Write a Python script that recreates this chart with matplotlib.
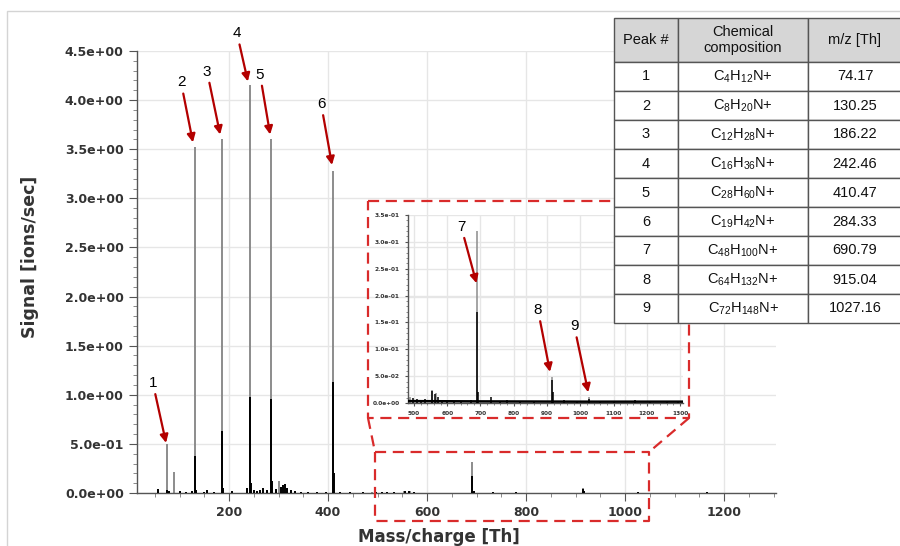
import matplotlib
matplotlib.use("Agg")
import matplotlib.pyplot as plt
from matplotlib.lines import Line2D
from matplotlib.patches import Rectangle
from matplotlib.ticker import MultipleLocator, FormatStrFormatter

plt.rcParams["mathtext.fontset"] = "custom"
plt.rcParams["mathtext.rm"] = "Liberation Sans"
plt.rcParams["mathtext.it"] = "Liberation Sans:italic"

# ---- spectrum data (m/z in Th, signal in ions/sec) ----
# main peaks: full height (grey) and inner trace (black)
major_mz = [74.17, 130.25, 186.22, 242.46, 284.33, 410.47, 690.79, 915.04, 1027.16]
major_top = [0.50, 3.52, 3.60, 4.15, 3.60, 3.28, 0.32, 0.048, 0.011]
major_core = [0.03, 0.38, 0.63, 0.98, 0.96, 1.13, 0.17, 0.042, 0.008]

# minor grey peaks
minor_grey_mz = [88, 301, 488, 553, 566]
minor_grey_h = [0.21, 0.12, 0.012, 0.024, 0.018]

# minor black peaks
minor_mz = [57, 78, 101, 112, 125, 133, 150, 156, 170, 188, 205, 236, 245, 250,
            256, 262, 269, 276, 287, 295, 305, 309, 313, 318, 325, 333, 345, 360,
            378, 395, 412, 425, 444, 470, 497, 508, 520, 533, 555, 563, 573, 585,
            600, 620, 640, 670, 694, 733, 760, 780, 820, 860, 918, 950, 990, 1060,
            1100, 1165, 1210, 1260, 1295]
minor_h = [0.04, 0.02, 0.02, 0.015, 0.02, 0.03, 0.01, 0.03, 0.01, 0.05, 0.02, 0.05,
           0.10, 0.03, 0.02, 0.03, 0.05, 0.03, 0.12, 0.04, 0.06, 0.08, 0.09, 0.05,
           0.03, 0.02, 0.015, 0.01, 0.01, 0.015, 0.20, 0.01, 0.015, 0.008, 0.010,
           0.008, 0.006, 0.008, 0.022, 0.017, 0.012, 0.005, 0.004, 0.004, 0.004,
           0.005, 0.02, 0.012, 0.004, 0.006, 0.004, 0.003, 0.02, 0.005, 0.003,
           0.003, 0.003, 0.006, 0.003, 0.003, 0.003]

# noise floor seen at high m/z
floor_mz = [482, 700, 1000, 1309]
floor_h = [0.0035, 0.003, 0.0025, 0.0025]

# ---- peak annotations ----
main_labels = ["1", "2", "3", "4", "5", "6"]
main_tips = [(72.7, 0.51), (127, 3.57), (182, 3.65), (238, 4.19), (283, 3.65), (408, 3.34)]
main_text = [(46, 1.12), (103, 4.18), (155.6, 4.29), (216, 4.68), (262.6, 4.26), (386, 3.96)]
inset_labels = ["7", "8", "9"]
inset_tips = [(688, 0.223), (909, 0.058), (1024, 0.020)]
inset_text = [(642, 0.328), (873, 0.173), (982, 0.143)]

# ---- table ----
table_header = ["Peak #", "Chemical\ncomposition", "m/z [Th]"]
peak_numbers = ["1", "2", "3", "4", "5", "6", "7", "8", "9"]
formulas = [r"C$_{4}$H$_{12}$N+", r"C$_{8}$H$_{20}$N+", r"C$_{12}$H$_{28}$N+",
            r"C$_{16}$H$_{36}$N+", r"C$_{28}$H$_{60}$N+", r"C$_{19}$H$_{42}$N+",
            r"C$_{48}$H$_{100}$N+", r"C$_{64}$H$_{132}$N+", r"C$_{72}$H$_{148}$N+"]
mz_values = ["74.17", "130.25", "186.22", "242.46", "410.47", "284.33",
             "690.79", "915.04", "1027.16"]

W, H = 900, 546
fig = plt.figure(figsize=(W / 100, H / 100), dpi=100)


def fx(x):
    return x / W


def fy(y):
    return 1 - y / H


GREY = "#8c8c8c"
ARROW = "#b30000"
DASH = "#d92b2b"
TICKC = "#333333"


def draw_spectrum(ax, lw):
    ax.vlines(major_mz, 0, major_top, color=GREY, lw=lw, zorder=2)
    ax.vlines(minor_grey_mz, 0, minor_grey_h, color=GREY, lw=lw, zorder=2)
    ax.vlines(major_mz, 0, major_core, color="black", lw=lw, zorder=3)
    ax.vlines(minor_mz, 0, minor_h, color="black", lw=lw, zorder=3)


def style_axes(ax, fs, major_len, minor_len):
    for s in ("top", "right"):
        ax.spines[s].set_visible(False)
    for s in ("left", "bottom"):
        ax.spines[s].set_color("#555555")
        ax.spines[s].set_linewidth(1.0)
    ax.grid(True, which="major", color="#e6e6e6", lw=1.0, zorder=0)
    ax.set_axisbelow(True)
    ax.tick_params(which="major", direction="out", length=major_len, width=0.8,
                   color="#555555", labelsize=fs, labelcolor=TICKC)
    ax.tick_params(which="minor", direction="out", length=minor_len, width=0.6,
                   color="#777777")
    for lab in ax.get_xticklabels() + ax.get_yticklabels():
        lab.set_fontweight("bold")


# figure frame
fig.add_artist(Rectangle((fx(7), -0.1), 1.2, fy(11) + 0.1, transform=fig.transFigure,
                         fill=False, edgecolor="#d4d4d4", lw=1.0))

# ---- main axes ----
ax = fig.add_axes([fx(137), fy(493), fx(776) - fx(137), fy(51) - fy(493)])
draw_spectrum(ax, 1.4)
ax.set_xlim(14, 1305)
ax.set_ylim(0, 4.5)
ax.xaxis.set_major_locator(MultipleLocator(200))
ax.xaxis.set_minor_locator(MultipleLocator(50))
ax.yaxis.set_major_locator(MultipleLocator(0.5))
ax.yaxis.set_minor_locator(MultipleLocator(0.1))
ax.yaxis.set_major_formatter(FormatStrFormatter("%.1e"))
style_axes(ax, 9, 6, 3)
ax.set_xlabel("Mass/charge [Th]", fontsize=12, fontweight="bold", color=TICKC,
              va="center")
ax.set_ylabel("Signal [ions/sec]", fontsize=12.5, fontweight="bold", color=TICKC,
              va="center")
ax.xaxis.set_label_coords(0.472, -0.0995)
ax.yaxis.set_label_coords(-0.167, 0.535)

arrow_props = dict(arrowstyle="-|>", color=ARROW, lw=1.6, mutation_scale=12,
                   shrinkA=1, shrinkB=0)
for lab, tip, txt in zip(main_labels, main_tips, main_text):
    ax.annotate(lab, xy=tip, xytext=txt, ha="center", va="center", fontsize=11,
                family="Liberation Sans", zorder=5, arrowprops=arrow_props)

# ---- inset axes ----
ins = fig.add_axes([fx(408), fy(403), fx(683) - fx(408), fy(215) - fy(403)])
draw_spectrum(ins, 1.1)
ins.plot(floor_mz, floor_h, color="black", lw=1.8, zorder=3)
ins.set_xlim(482, 1309)
ins.set_ylim(0, 0.35)
ins.xaxis.set_major_locator(MultipleLocator(100))
ins.xaxis.set_minor_locator(MultipleLocator(20))
ins.yaxis.set_major_locator(MultipleLocator(0.05))
ins.yaxis.set_minor_locator(MultipleLocator(0.01))
ins.yaxis.set_major_formatter(FormatStrFormatter("%.1e"))
style_axes(ins, 4.2, 2.5, 1.5)
ins.patch.set_alpha(0.0)

for lab, tip, txt in zip(inset_labels, inset_tips, inset_text):
    ins.annotate(lab, xy=tip, xytext=txt, ha="center", va="center", fontsize=11,
                 family="Liberation Sans", zorder=5, arrowprops=arrow_props)

# ---- zoom outlines ----
def dashed(xs, ys):
    fig.add_artist(Line2D([fx(x) for x in xs], [fy(y) for y in ys],
                          transform=fig.transFigure, color=DASH, lw=1.6,
                          linestyle=(0, (5, 3)), zorder=6))


dashed([368, 689, 689, 368, 368], [201, 201, 418, 418, 201])
dashed([375, 649, 649, 375, 375], [452, 452, 521, 521, 452])
dashed([368, 375], [418, 452])
dashed([689, 649], [418, 452])

# ---- table ----
col_x = [614, 678, 808, 905]
row_y = [18, 62, 91, 120, 149, 178, 207, 236, 265, 294, 323]
for r in range(len(row_y) - 1):
    for c in range(len(col_x) - 1):
        face = "#d6d6d6" if r == 0 else "white"
        fig.add_artist(Rectangle((fx(col_x[c]), fy(row_y[r + 1])),
                                 fx(col_x[c + 1]) - fx(col_x[c]),
                                 fy(row_y[r]) - fy(row_y[r + 1]),
                                 transform=fig.transFigure, facecolor=face,
                                 edgecolor="#555555", lw=1.0, zorder=7))

rows = [table_header] + [list(t) for t in zip(peak_numbers, formulas, mz_values)]
col_cx = [646, 743, 855]
for r, row in enumerate(rows):
    cy = (row_y[r] + row_y[r + 1]) / 2
    for c, txt in enumerate(row):
        fig.text(fx(col_cx[c]), fy(cy), txt, ha="center", va="center",
                 fontsize=10.5, family="Liberation Sans", color="#111111",
                 linespacing=1.2, zorder=8)

fig.savefig("out.png", dpi=100)
